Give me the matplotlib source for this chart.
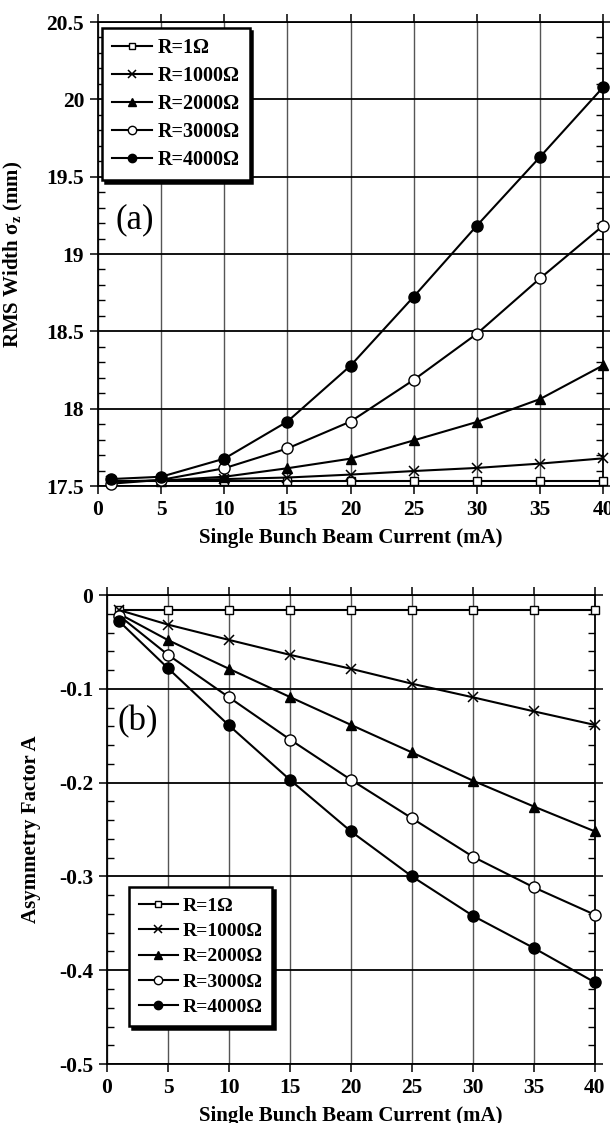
import matplotlib
matplotlib.use("Agg")
from matplotlib import pyplot as plt
from matplotlib.ticker import MultipleLocator

plt.rcParams['font.family'] = ['Liberation Serif', 'DejaVu Serif']
plt.rcParams['mathtext.default'] = 'regular'

current = [1, 5, 10, 15, 20, 25, 30, 35, 40]
labels = ['R=1Ω', 'R=1000Ω', 'R=2000Ω', 'R=3000Ω', 'R=4000Ω']

# (a) RMS width sigma_z (mm)
width_r1 = [17.53, 17.53, 17.53, 17.53, 17.53, 17.53, 17.53, 17.53, 17.53]
width_r1000 = [17.53, 17.535, 17.545, 17.555, 17.574, 17.597, 17.617, 17.645, 17.679]
width_r2000 = [17.53, 17.535, 17.56, 17.615, 17.677, 17.795, 17.914, 18.062, 18.28]
width_r3000 = [17.515, 17.54, 17.615, 17.743, 17.917, 18.186, 18.484, 18.842, 19.183]
width_r4000 = [17.545, 17.56, 17.677, 17.917, 18.278, 18.724, 19.183, 19.627, 20.078]

# (b) asymmetry factor A
asym_r1 = [-0.016, -0.016, -0.016, -0.016, -0.016, -0.016, -0.016, -0.016, -0.016]
asym_r1000 = [-0.016, -0.0315, -0.0478, -0.0637, -0.0786, -0.0945, -0.109, -0.124, -0.1385]
asym_r2000 = [-0.020, -0.048, -0.0786, -0.1087, -0.1384, -0.1678, -0.1979, -0.2255, -0.252]
asym_r3000 = [-0.022, -0.0637, -0.109, -0.154, -0.197, -0.238, -0.279, -0.3117, -0.3409]
asym_r4000 = [-0.028, -0.078, -0.139, -0.197, -0.252, -0.300, -0.342, -0.3764, -0.413]

styles = [
    dict(marker='s', mfc='white', ms=6),
    dict(marker='x', mfc='black', ms=7, mew=1.1),
    dict(marker='^', mfc='black', ms=7),
    dict(marker='o', mfc='white', ms=8),
    dict(marker='o', mfc='black', ms=8),
]


def style_axes(ax, ymin, ymax, ymajor, yminor, ylabel):
    ax.set_xlim(0, 40)
    ax.set_ylim(ymin, ymax)
    ax.xaxis.set_major_locator(MultipleLocator(5))
    ax.yaxis.set_major_locator(MultipleLocator(ymajor))
    ax.yaxis.set_minor_locator(MultipleLocator(yminor))
    ax.tick_params(which='major', direction='out', length=6, width=1.1,
                   top=True, right=True, labelsize=15.5, pad=4)
    ax.tick_params(which='minor', direction='in', length=5, width=1.0,
                   left=True, right=True)
    for t in ax.get_xticklabels() + ax.get_yticklabels():
        t.set_fontweight('bold')
    ax.grid(axis='x', which='major', color='#555555', lw=1.0)
    ax.grid(axis='y', which='major', color='black', lw=1.3)
    for s in ax.spines.values():
        s.set_linewidth(1.3)
    ax.set_xlabel('Single Bunch Beam Current (mA)', fontsize=15,
                  fontweight='bold', labelpad=6)
    ax.set_ylabel(ylabel, fontsize=15, fontweight='bold')


def add_legend(ax, anchor, size):
    leg = ax.legend(loc='upper left', bbox_to_anchor=anchor, borderaxespad=0,
                    fancybox=False, shadow={'color': 'black', 'alpha': 1},
                    edgecolor='black', framealpha=1, handlelength=2.0,
                    handletextpad=0.25, labelspacing=0.4, markerscale=0.75,
                    borderpad=0.5, prop={'size': size, 'weight': 'bold'})
    leg.get_frame().set_linewidth(1.8)


fig = plt.figure(figsize=(6.1, 11.23), dpi=100)

ax1 = fig.add_axes([0.1607, 0.5672, 0.8279, 0.4132])
series_a = [width_r1, width_r1000, width_r2000, width_r3000, width_r4000]
for vals, lab, st in zip(series_a, labels, styles):
    ax1.plot(current, vals, color='black', lw=1.5, mec='black', label=lab,
             clip_on=False, zorder=3, **st)
style_axes(ax1, 17.5, 20.5, 0.5, 0.1, r'RMS Width σ$_{z}$ (mm)')
ax1.set_yticks([17.5, 18, 18.5, 19, 19.5, 20, 20.5])
ax1.set_yticklabels(['17.5', '18', '18.5', '19', '19.5', '20', '20.5'],
                    fontweight='bold')
ax1.yaxis.set_label_coords(-0.145, 0.5)
ax1.text(0.073, 0.573, '(a)', transform=ax1.transAxes, fontsize=25,
         ha='center', va='center')
add_legend(ax1, (0.008, 0.987), 14.5)

ax2 = fig.add_axes([0.1754, 0.0525, 0.8, 0.4176])
series_b = [asym_r1, asym_r1000, asym_r2000, asym_r3000, asym_r4000]
for vals, lab, st in zip(series_b, labels, styles):
    ax2.plot(current, vals, color='black', lw=1.5, mec='black', label=lab,
             clip_on=False, zorder=3, **st)
style_axes(ax2, -0.5, 0, 0.1, 0.02, 'Asymmetry Factor A')
ax2.set_yticks([-0.5, -0.4, -0.3, -0.2, -0.1, 0])
ax2.set_yticklabels(['-0.5', '-0.4', '-0.3', '-0.2', '-0.1', '0'],
                    fontweight='bold')
ax2.yaxis.set_label_coords(-0.135, 0.5)
ax2.text(0.064, 0.729, '(b)', transform=ax2.transAxes, fontsize=25,
         ha='center', va='center')
add_legend(ax2, (0.045, 0.377), 14)

plt.savefig('out.png', dpi=100)
